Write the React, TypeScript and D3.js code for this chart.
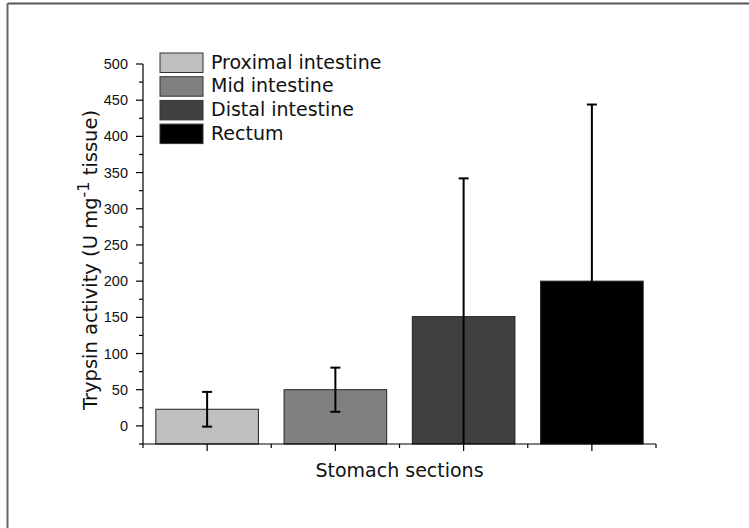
import React from "react";
import * as d3 from "d3";

const categories = ["Proximal intestine", "Mid intestine", "Distal intestine", "Rectum"];
const means = [23, 50, 151, 200];
const errors = [24, 30.5, 191, 244];
const colors = ["#c0c0c0", "#808080", "#404040", "#000000"];
const yTicks = [0, 50, 100, 150, 200, 250, 300, 350, 400, 450, 500];

const W = 749;
const H = 528;
const left = 143;
const right = 656;
const top = 64;
const bottom = 444;

export default function App() {
  const x = d3.scaleBand<string>().domain(categories).range([left, right]).paddingInner(0.2).paddingOuter(0.1);
  const y = d3.scaleLinear().domain([-25, 500]).range([bottom, top]);
  const minor = d3.range(-25, 501, 25).filter((v) => v % 50 !== 0);
  const step = x.step();
  const boundaries = d3.range(0, categories.length + 1).map((i) => left + i * step);
  const font = "'DejaVu Sans', Verdana, sans-serif";
  const tickFont = "'Liberation Sans', Arial, sans-serif";

  return (
    <svg width={W} height={H} style={{ position: "absolute", left: 0, top: 0, background: "#fff" }}>
      {/* frame */}
      <line x1={7.5} y1={3.5} x2={W} y2={3.5} stroke="#555" strokeWidth={2} />
      <line x1={7.5} y1={3.5} x2={7.5} y2={H} stroke="#666" strokeWidth={2} />

      {/* bars */}
      {categories.map((c, i) => (
        <rect
          key={c}
          x={x(c)!}
          y={y(means[i])}
          width={x.bandwidth()}
          height={y(-25) - y(means[i])}
          fill={colors[i]}
          stroke="#222"
          strokeWidth={1}
        />
      ))}

      {/* error bars */}
      {categories.map((c, i) => {
        const cx = x(c)! + x.bandwidth() / 2;
        const hi = means[i] + errors[i];
        const lo = Math.max(means[i] - errors[i], -25);
        const loCap = means[i] - errors[i] >= -25;
        return (
          <g key={"e" + c} stroke="#000" strokeWidth={2}>
            <line x1={cx} x2={cx} y1={y(hi)} y2={y(lo)} />
            <line x1={cx - 5} x2={cx + 5} y1={y(hi)} y2={y(hi)} />
            {loCap && <line x1={cx - 5} x2={cx + 5} y1={y(lo)} y2={y(lo)} />}
          </g>
        );
      })}

      {/* y axis */}
      <g stroke="#000" strokeWidth={1.2}>
        <line x1={left} x2={left} y1={top} y2={bottom} />
        {yTicks.map((t) => (
          <line key={"yt" + t} x1={left - 7} x2={left} y1={y(t)} y2={y(t)} />
        ))}
        {minor.map((t) => (
          <line key={"ym" + t} x1={left - 4} x2={left} y1={y(t)} y2={y(t)} />
        ))}
      </g>
      {yTicks.map((t) => (
        <text key={"yl" + t} x={128} y={y(t)} dy="0.35em" textAnchor="end" fontFamily={tickFont} fontSize={14.5} fill="#111">
          {t}
        </text>
      ))}

      {/* x axis */}
      <g stroke="#000" strokeWidth={1.2}>
        <line x1={left} x2={right} y1={bottom} y2={bottom} />
        {categories.map((c) => {
          const cx = x(c)! + x.bandwidth() / 2;
          return <line key={"xt" + c} x1={cx} x2={cx} y1={bottom} y2={bottom + 7} />;
        })}
        {boundaries.map((b, i) => (
          <line key={"xm" + i} x1={b} x2={b} y1={bottom} y2={bottom + 4} />
        ))}
      </g>

      <text x={(left + right) / 2} y={477} textAnchor="middle" fontFamily={font} fontSize={19} fill="#111">
        Stomach sections
      </text>

      <text
        transform={`translate(97, ${(y(500) + y(-25)) / 2 + 6}) rotate(-90)`}
        textAnchor="middle"
        fontFamily={font}
        fontSize={19.5}
        fill="#111"
      >
        Trypsin activity (U mg
        <tspan fontSize={16} dy={-8}>-1</tspan>
        <tspan dy={8}> tissue)</tspan>
      </text>

      {/* legend */}
      {categories.map((c, i) => (
        <g key={"lg" + c}>
          <rect x={160} y={53 + i * 23.7} width={43} height={19.5} fill={colors[i]} stroke="#333" strokeWidth={1} />
          <text x={211} y={68.5 + i * 23.7} fontFamily={font} fontSize={19} fill="#111">
            {c}
          </text>
        </g>
      ))}
    </svg>
  );
}
